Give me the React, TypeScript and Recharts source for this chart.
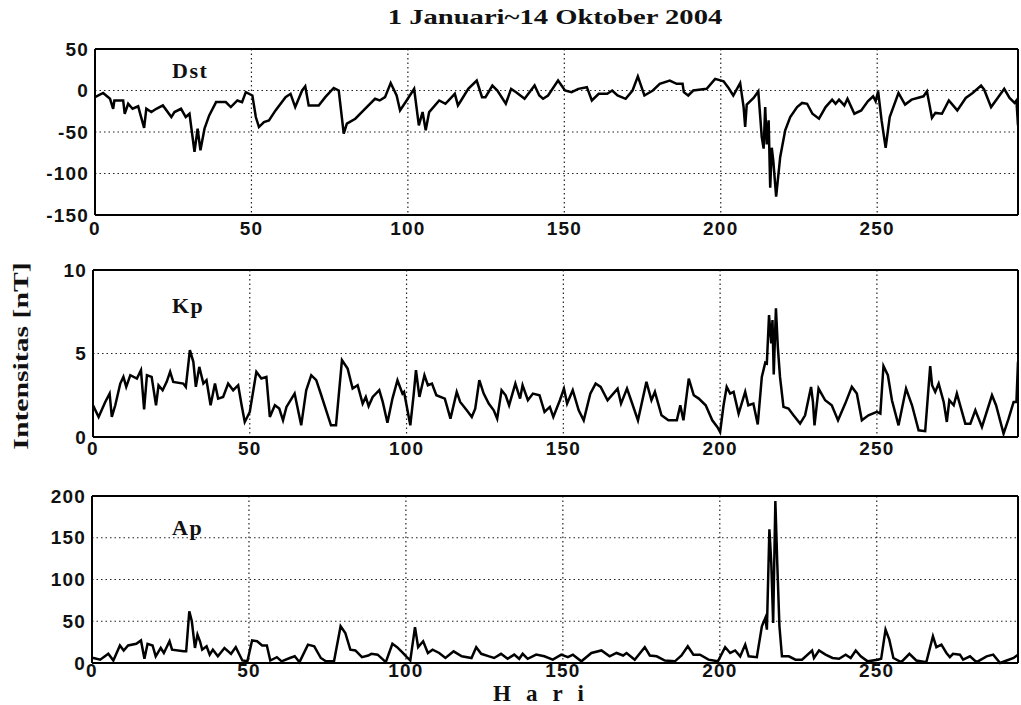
import React from "react"
import { CartesianGrid, Line, LineChart, ReferenceLine, XAxis, YAxis } from "recharts"

// day of year (0 = 1 Jan 2004) and daily index values
const dayTicks = [0, 50, 100, 150, 200, 250]
const dayMax = 295

const dstDays = [0, 2.6, 4.8, 5.8, 6.2, 9, 9.5, 10.6, 12, 13.8, 14.3, 15.7, 16.4, 18, 19.6, 21.7, 24.4, 25.4, 27.5, 29, 30.2, 31.8, 32.8, 33.7, 35, 36.5, 38.7, 41.8, 43.4, 45.5, 47, 48.2, 50.3, 51.4, 52.4, 54, 55.6, 57.7, 60.9, 62.5, 64, 66.2, 67.2, 68.3, 71.5, 73.6, 76.3, 77.9, 79.5, 80.5, 83.2, 86.3, 89.5, 91, 92.7, 94.5, 96.4, 97.5, 99.6, 102, 103.5, 104.7, 105.7, 106.8, 110, 112, 115, 116, 117, 119.3, 122, 123.7, 124.8, 127, 128.6, 131.3, 133, 134.6, 137.3, 140.5, 142, 143.2, 144.8, 148, 150.2, 152.3, 154.5, 157.2, 158.8, 161, 163.7, 165.3, 167, 169.6, 171.8, 173.5, 175.6, 178.3, 180.5, 183.7, 185.9, 187.8, 188.2, 189.6, 191.2, 195.5, 198.2, 200.9, 202.5, 204, 206.2, 207.3, 207.8, 208.3, 210.5, 212, 213.1, 213.7, 214.2, 214.7, 215.3, 215.8, 216.3, 216.8, 217.7, 219, 220.6, 222.2, 224.4, 226, 227.6, 229.3, 231.4, 233.5, 235.6, 236.7, 237.8, 239.5, 240.5, 242.7, 244.9, 247, 248.7, 249.5, 250.3, 251.4, 252.7, 254, 256.8, 258.9, 261, 264.8, 265.9, 267.5, 268.6, 270.7, 272.9, 275.6, 278.3, 280.5, 283.2, 284.2, 286.4, 288.5, 290.6, 292.3, 293.9, 294.5, 295]
const dstValues = [-8, -3, -10, -22, -12, -12, -28, -16, -22, -19, -26, -45, -22, -26, -22, -18, -32, -26, -22, -32, -28, -74, -46, -72, -46, -30, -14, -14, -20, -12, -14, -2, -6, -32, -44, -38, -36, -24, -8, -4, -20, 0, 5, -18, -18, -8, 3, 0, -52, -40, -34, -22, -10, -12, -8, 9, -6, -24, -12, 2, -42, -26, -48, -26, -12, -16, -4, -18, -12, 2, 12, -8, -8, 6, 0, -16, 2, -2, -10, 6, -6, -10, -6, 12, 0, -2, 2, 4, -12, -4, -4, 0, -6, -10, 0, 17, -6, 0, 8, 12, 8, 8, -2, -6, 0, 2, 14, 11, 3, -6, 9, -20, -44, -17, -9, -1, -56, -70, -20, -65, -36, -117, -69, -85, -128, -80, -48, -32, -20, -15, -16, -28, -34, -20, -11, -16, -11, -18, -10, -28, -24, -13, -7, -13, -1, -36, -69, -32, -3, -17, -11, -7, -1, -33, -27, -28, -12, -24, -9, -3, 6, 1, -20, -9, 2, -9, -15, -12, -42]

const kpDays = [0, 1.8, 3.9, 5.3, 6, 7.1, 8.7, 9.7, 10.6, 11.9, 14, 15.3, 16.3, 17.2, 18.7, 20.1, 20.9, 22.2, 23.5, 24.6, 25.6, 28.8, 29.6, 30.9, 32, 32.8, 33.9, 35.2, 36.2, 37.5, 38.9, 39.9, 41.5, 43.1, 44.7, 46.3, 47.4, 48.4, 50, 52.1, 53.7, 55.3, 56.4, 58, 59.4, 60.6, 61.7, 64.3, 66.4, 68, 69.6, 71.2, 72.8, 75.9, 77.5, 79.4, 81.2, 82.8, 84.4, 86, 87, 87.9, 89.2, 91.3, 92.4, 93.9, 95.5, 97.1, 98.7, 99.2, 101.2, 102.3, 103, 104.1, 105.7, 106.8, 108.1, 109.5, 112.2, 114, 116, 117.1, 119.2, 120.8, 121.9, 123.2, 124.6, 126.2, 127.8, 128.9, 130.3, 131.6, 132.7, 134.7, 136.2, 137, 138.7, 140.3, 142.4, 144, 145.7, 146.8, 148.9, 150.2, 151.2, 153, 154.9, 156.5, 158.6, 160.3, 161.9, 164.1, 167.3, 168.4, 170.3, 171.6, 173.8, 176.5, 178.1, 179.2, 181.3, 183.5, 186.2, 187.3, 188.3, 190, 191.6, 193.2, 195.4, 197.5, 199.1, 200, 201.1, 202.1, 203.2, 204.3, 205.9, 208, 209, 210.6, 212, 213.3, 214.4, 214.9, 215.6, 216.3, 216.7, 217.1, 217.8, 218.4, 219.1, 220.2, 221.8, 223.4, 225.5, 227.1, 229, 229.6, 230.1, 231.4, 233.5, 235.6, 237.6, 239.9, 242, 243.6, 245.2, 247.3, 250, 251.1, 252.1, 253.5, 254.8, 256.9, 259.3, 261.2, 263.3, 265.4, 267, 267.6, 268.6, 269.7, 271.3, 272.3, 273.1, 274.5, 275.5, 278.2, 279.8, 281.4, 283.5, 286.7, 288, 290.4, 292, 293.6, 294.5, 295]
const kpValues = [1.9, 1.2, 2.1, 2.6, 1.2, 1.9, 3.2, 3.6, 3.0, 3.7, 3.5, 4.0, 1.65, 3.7, 3.6, 1.9, 3.1, 2.8, 3.3, 3.9, 3.3, 3.2, 3.0, 5.2, 4.5, 3.0, 4.2, 3.2, 3.4, 1.9, 3.2, 2.3, 2.4, 3.2, 2.8, 3.1, 1.9, 0.9, 1.5, 3.9, 3.5, 3.6, 1.2, 1.9, 1.7, 1.0, 1.8, 2.6, 0.7, 2.8, 3.7, 3.4, 2.5, 0.7, 0.7, 4.6, 4.1, 2.9, 3.1, 2.0, 2.4, 1.85, 2.4, 2.8, 2.1, 0.85, 2.3, 3.4, 2.6, 2.7, 0.7, 2.6, 4.0, 2.4, 3.7, 3.1, 3.2, 2.5, 2.3, 1.1, 2.7, 2.1, 1.6, 1.2, 1.7, 3.4, 2.6, 2.0, 1.6, 1.1, 2.8, 2.5, 1.9, 3.2, 2.3, 3.1, 2.2, 2.6, 2.5, 1.5, 1.8, 1.2, 2.2, 2.9, 2.0, 2.8, 1.6, 1.0, 2.6, 3.2, 3.0, 2.2, 2.9, 2.0, 2.9, 2.2, 1.0, 3.3, 2.2, 2.7, 1.3, 1.0, 1.0, 1.9, 1.0, 3.5, 2.5, 2.3, 1.9, 1.0, 0.6, 0.3, 1.9, 3.0, 2.6, 2.7, 1.4, 2.7, 1.9, 2.0, 0.75, 3.6, 4.45, 4.4, 7.3, 5.6, 7.0, 3.75, 7.7, 5.4, 3.6, 1.8, 1.7, 1.3, 0.8, 1.3, 3.0, 2.1, 0.7, 2.9, 2.2, 1.9, 1.0, 2.0, 3.0, 2.6, 1.0, 1.3, 1.5, 1.4, 4.25, 3.7, 2.2, 0.7, 2.9, 1.9, 0.4, 0.35, 4.25, 3.1, 2.7, 3.2, 2.1, 0.9, 2.2, 1.9, 2.6, 0.8, 0.8, 1.6, 0.6, 2.5, 1.9, 0.2, 1.1, 2.1, 2.1, 4.5]

const apDays = [0, 0.5, 2.6, 5.2, 6.8, 8.9, 10.1, 11.5, 14.1, 15.6, 16.7, 17.7, 19.3, 20.3, 21.9, 22.9, 24.7, 25.5, 29.2, 30, 31, 31.8, 32.8, 33.6, 34.4, 35.1, 36.5, 37.5, 38.5, 40.1, 42.2, 44.3, 45.8, 47.9, 49.5, 51, 52.6, 54.2, 55.7, 56.8, 58.9, 60.4, 63, 64.6, 66.1, 68.8, 70.8, 72.9, 74.5, 77.1, 79.2, 80.7, 82.3, 83.9, 86, 88, 89, 91, 93.6, 95.7, 97.2, 98.8, 100.3, 101.4, 102.9, 103.9, 105.5, 107, 108.5, 110.6, 112.6, 115.2, 117.8, 120.9, 122.4, 124, 126.5, 128.1, 130.3, 132.4, 134.5, 136.1, 137.2, 138.8, 141.5, 144.1, 146.8, 149.5, 151.6, 153.2, 155.9, 159.1, 162.3, 164.9, 167.1, 169.2, 170.3, 172.9, 176.1, 177.7, 179.9, 182.5, 185.7, 187.8, 189.8, 191.6, 193.7, 196.4, 199.4, 201.7, 203.3, 204.9, 206.5, 208.1, 209.2, 211.8, 213.4, 214.5, 215, 215.8, 216.4, 217, 217.7, 218.3, 219, 219.8, 222, 224.1, 226.2, 229.4, 230, 231.6, 233.7, 235.9, 238, 240.1, 241.7, 243.3, 244.9, 247.1, 250.3, 251.4, 252.8, 254, 255.3, 257.8, 260.4, 262.6, 265.8, 267.9, 269, 270.6, 272.2, 273.3, 274.3, 276.5, 277.5, 279.7, 281.8, 285, 287.1, 289.3, 291.4, 293.6, 295]
const apValues = [6, 6, 4, 11, 3, 21, 15, 21, 23, 27, 5, 23, 21, 8, 18, 12, 26, 16, 14, 14, 62, 50, 18, 34, 26, 16, 20, 10, 16, 8, 18, 11, 19, 3, 2, 27, 26, 21, 21, 3, 7, 2, 6, 8, 1, 22, 20, 6, 2, 2, 44, 36, 16, 15, 7, 9, 11, 10, 1, 23, 19, 13, 7, 3, 43, 19, 26, 12, 16, 12, 6, 14, 8, 6, 19, 11, 8, 6, 11, 5, 10, 5, 11, 5, 10, 8, 4, 10, 7, 10, 2, 12, 15, 8, 12, 9, 12, 4, 19, 9, 8, 3, 2, 9, 20, 10, 10, 4, 2, 19, 12, 15, 8, 22, 8, 7, 44, 54, 40, 160, 120, 48, 194, 120, 44, 8, 8, 4, 4, 15, 6, 15, 10, 6, 5, 10, 6, 15, 8, 2, 4, 5, 40, 28, 6, 1, 11, 3, 1, 32, 19, 22, 12, 7, 11, 10, 4, 8, 1, 8, 10, 0, 3, 6, 10]

const zip = (days: number[], values: number[]) => days.map((d, i) => ({ day: d, v: values[i] }))

const sans = "'Liberation Sans', Arial, sans-serif"
const serif = "'Liberation Serif', 'Times New Roman', serif"
const tick = { fill: "#111", fontSize: 19, fontWeight: 700, fontFamily: sans, letterSpacing: 1.2 }

type PanelProps = {
  top: number
  height: number
  plotTop: number
  xAxisHeight: number
  left: number
  data: { day: number; v: number }[]
  domain: [number, number]
  ticks: number[]
  xTickMargin: number
}

function Panel({ top, height, plotTop, xAxisHeight, left, data, domain, ticks, xTickMargin }: PanelProps) {
  return (
    <div style={{ position: "absolute", left: 0, top }}>
      <LineChart width={1021} height={height} data={data} margin={{ top: plotTop, right: 1021 - 1018, left: 0, bottom: 0 }}>
        <CartesianGrid stroke="#222" strokeDasharray="1.5 3" strokeWidth={1.2} />
        <XAxis
          dataKey="day"
          type="number"
          domain={[0, dayMax]}
          ticks={dayTicks}
          height={xAxisHeight}
          tickLine={false}
          tickSize={0}
          tickMargin={xTickMargin}
          tick={tick}
          axisLine={{ stroke: "#000", strokeWidth: 2 }}
          allowDataOverflow
        />
        <YAxis
          type="number"
          domain={domain}
          ticks={ticks}
          width={left}
          tickLine={false}
          tickSize={0}
          tickMargin={6}
          tick={tick}
          axisLine={{ stroke: "#000", strokeWidth: 2 }}
          interval={0}
        />
        <ReferenceLine y={domain[1]} stroke="#000" strokeWidth={2} />
        <ReferenceLine x={dayMax} stroke="#000" strokeWidth={2} />
        <Line dataKey="v" type="linear" stroke="#000" strokeWidth={2.5} dot={false} isAnimationActive={false} />
      </LineChart>
    </div>
  )
}

const panelLabel: React.CSSProperties = {
  position: "absolute",
  fontFamily: serif,
  fontWeight: 700,
  fontSize: 22,
  letterSpacing: 1.5,
  color: "#111",
}

export default function App() {
  return (
    <div style={{ position: "absolute", left: 0, top: 0, width: 1021, height: 705, background: "#fff", overflow: "hidden" }}>
      <div
        style={{
          position: "absolute",
          left: 0,
          top: 4,
          width: 1110,
          textAlign: "center",
          fontFamily: serif,
          fontWeight: 700,
          fontSize: 22,
          color: "#111",
          transform: "scaleX(1.3)",
        }}
      >
        1 Januari~14 Oktober 2004
      </div>
      <Panel top={0} height={245} plotTop={49} xAxisHeight={30} left={95} data={zip(dstDays, dstValues)} domain={[-150, 50]} ticks={[-150, -100, -50, 0, 50]} xTickMargin={7} />
      <Panel top={245} height={220} plotTop={25} xAxisHeight={28} left={93} data={zip(kpDays, kpValues)} domain={[0, 10]} ticks={[0, 5, 10]} xTickMargin={5} />
      <Panel top={465} height={240} plotTop={31} xAxisHeight={42} left={92} data={zip(apDays, apValues)} domain={[0, 200]} ticks={[0, 50, 100, 150, 200]} xTickMargin={1} />
      <div style={{ ...panelLabel, left: 172, top: 58 }}>Dst</div>
      <div style={{ ...panelLabel, left: 172, top: 293 }}>Kp</div>
      <div style={{ ...panelLabel, left: 172, top: 515 }}>Ap</div>
      <div
        style={{
          position: "absolute",
          left: 21 - 150,
          top: 356 - 13,
          width: 300,
          textAlign: "center",
          transform: "rotate(-90deg) scaleX(1.35)",
          fontFamily: serif,
          fontWeight: 700,
          fontSize: 22,
          color: "#111",
        }}
      >
        Intensitas [nT]
      </div>
      <div
        style={{
          position: "absolute",
          left: 493,
          top: 684,
          lineHeight: "20px",
          fontFamily: serif,
          fontWeight: 700,
          fontSize: 23,
          letterSpacing: 15,
          color: "#111",
        }}
      >
        Hari
      </div>
    </div>
  )
}
